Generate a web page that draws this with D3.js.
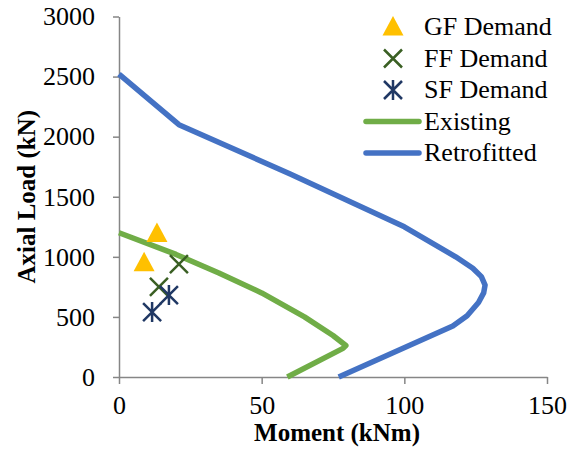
<!DOCTYPE html>
<html lang="en">
<head>
    <meta charset="UTF-8">
    <title>Axial Load vs Moment</title>
    <style>
        body {
            margin: 0;
            padding: 0;
            background: #fff;
        }
        svg text {
            font-family: "Liberation Serif", "Times New Roman", serif;
            fill: #000;
        }
        .axis path, .axis line {
            stroke: #868686;
            stroke-width: 1.5px;
        }
        .axis text {
            font-size: 26px;
        }
        .title {
            font-size: 25px;
            font-weight: bold;
        }
        .legend text {
            font-size: 26px;
        }
    </style>
</head>
<body>
    <div id="chart"></div>

    <script src="https://d3js.org/d3.v7.min.js"></script>
    <script>
        // Interaction curves (moment kNm, axial kN)
        const existingCurve = [
            [0, 1200], [20, 1020], [35, 865], [50, 700], [65, 500], [75, 345], [79.5, 262], [78.5, 238], [59, 0]
        ];
        const retrofittedCurve = [
            [0, 2520], [21, 2100], [60, 1690], [100, 1250], [118, 1000], [124, 905],
            [127, 835], [128.3, 765], [127.8, 700], [126, 620], [122, 510], [117, 425], [77, 0]
        ];

        // Demand points
        const gfDemand = [[13.3, 1195], [8.8, 950]];
        const ffDemand = [[21, 940], [14, 750]];
        const sfDemand = [[17.5, 682], [11.6, 540]];

        const xTicks = [0, 50, 100, 150];
        const yTicks = [0, 500, 1000, 1500, 2000, 2500, 3000];

        const legendItems = [
            { label: "GF Demand", type: "triangle", color: "#FFC000" },
            { label: "FF Demand", type: "cross", color: "#3A5F23" },
            { label: "SF Demand", type: "star", color: "#203864" },
            { label: "Existing", type: "line", color: "#70AD47" },
            { label: "Retrofitted", type: "line", color: "#4472C4" }
        ];

        const width = 580, height = 450;

        const svg = d3.select("#chart")
            .append("svg")
            .attr("width", width)
            .attr("height", height);

        const x = d3.scaleLinear().domain([0, 150]).range([119, 547]);
        const y = d3.scaleLinear().domain([0, 3000]).range([377, 16.5]);

        // axes
        const xAxis = svg.append("g")
            .attr("class", "axis")
            .attr("transform", "translate(0," + y(0) + ")")
            .call(d3.axisBottom(x).tickValues(xTicks).tickSize(7).tickSizeOuter(0).tickPadding(12));
        xAxis.selectAll("text").attr("dy", "0.71em");

        svg.append("g")
            .attr("class", "axis")
            .attr("transform", "translate(" + x(0) + ",0)")
            .call(d3.axisLeft(y).tickValues(yTicks).tickFormat(d3.format("d"))
                .tickSize(6).tickSizeOuter(0).tickPadding(18));

        // curves
        const line = d3.line()
            .x(d => x(d[0]))
            .y(d => y(d[1]));

        svg.append("path")
            .datum(existingCurve)
            .attr("fill", "none")
            .attr("stroke", "#70AD47")
            .attr("stroke-width", 5.5)
            .attr("stroke-linejoin", "round")
            .attr("d", line);

        svg.append("path")
            .datum(retrofittedCurve)
            .attr("fill", "none")
            .attr("stroke", "#4472C4")
            .attr("stroke-width", 5.5)
            .attr("stroke-linejoin", "round")
            .attr("d", line);

        // marker shapes
        function drawMarker(g, type, color) {
            if (type === "triangle") {
                g.append("path")
                    .attr("d", "M0,-11L10.5,8.5L-10.5,8.5Z")
                    .attr("fill", color);
            } else if (type === "cross") {
                g.append("path")
                    .attr("d", "M-9,-9L9,9M-9,9L9,-9")
                    .attr("stroke", color)
                    .attr("stroke-width", 2.5)
                    .attr("fill", "none");
            } else if (type === "star") {
                g.append("path")
                    .attr("d", "M-9,-9L9,9M-9,9L9,-9M0,-10L0,10")
                    .attr("stroke", color)
                    .attr("stroke-width", 2.5)
                    .attr("fill", "none");
            }
        }

        const markerSets = [
            { data: gfDemand, type: "triangle", color: "#FFC000" },
            { data: ffDemand, type: "cross", color: "#3A5F23" },
            { data: sfDemand, type: "star", color: "#203864" }
        ];

        markerSets.forEach(s => {
            s.data.forEach(d => {
                const g = svg.append("g")
                    .attr("transform", "translate(" + x(d[0]) + "," + y(d[1]) + ")");
                drawMarker(g, s.type, s.color);
            });
        });

        // axis titles
        svg.append("text")
            .attr("class", "title")
            .attr("x", (x(0) + x(150)) / 2 + 4)
            .attr("y", 441)
            .attr("text-anchor", "middle")
            .text("Moment (kNm)");

        svg.append("text")
            .attr("class", "title")
            .attr("transform", "translate(35," + (y(0) + y(3000)) / 2 + ") rotate(-90)")
            .attr("text-anchor", "middle")
            .text("Axial Load (kN)");

        // legend
        const legend = svg.append("g").attr("class", "legend");
        legendItems.forEach((item, i) => {
            const cy = 27 + i * 31.5;
            const g = legend.append("g").attr("transform", "translate(393," + cy + ")");
            if (item.type === "line") {
                g.append("line")
                    .attr("x1", -27).attr("x2", 26)
                    .attr("y1", 0).attr("y2", 0)
                    .attr("stroke", item.color)
                    .attr("stroke-width", 5.5)
                    .attr("stroke-linecap", "round");
            } else {
                drawMarker(g, item.type, item.color);
            }
            legend.append("text")
                .attr("x", 424)
                .attr("y", cy + 8)
                .text(item.label);
        });
    </script>
</body>
</html>
